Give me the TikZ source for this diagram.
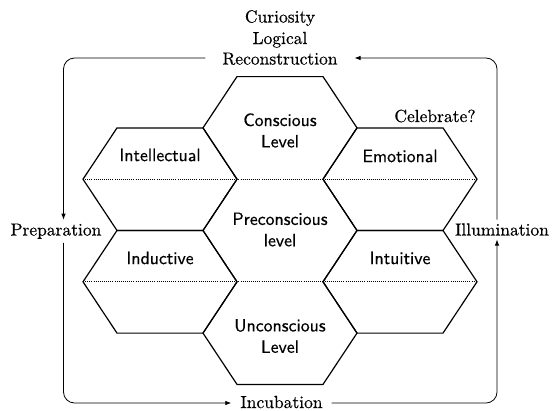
\documentclass[tikz,border=0pt]{standalone}
\usepackage{fontspec}
\setmainfont{lmroman10-regular.otf}[FakeBold=0.5]
\newfontfamily\hexsans{lmsans10-regular.otf}[FakeBold=0.5]
\usetikzlibrary{arrows.meta}
\begin{document}
\begin{tikzpicture}[x=1pt,y=-1pt,
  hexline/.style={line width=1.2pt, line join=miter},
  midline/.style={line width=0.8pt, dash pattern=on 0.8pt off 1.3pt},
  loopline/.style={line width=0.8pt, rounded corners=11pt},
  tip/.style={-{Latex[length=6pt,width=4.5pt]}},
  serif/.style={scale=1.75, inner sep=2pt, anchor=base},
  hexlabel/.style={font=\hexsans, scale=1.78, align=center, inner sep=0pt}]
\useasboundingbox (0,0) rectangle (553,410);
% hexagons (half width 77, half top edge 43, half height 51.3)
% centre column
\draw[hexline,shift={(280,127.9)}] (-43,51.3) -- (-77,0) -- (-43,-51.3) -- (43,-51.3) -- (77,0) -- (43,51.3);
\draw[hexline,shift={(280,230.5)}] (-43,-51.3) -- (-77,0) -- (-43,51.3) (43,-51.3) -- (77,0) -- (43,51.3);
\draw[hexline,shift={(280,333.1)}] (-43,-51.3) -- (-77,0) -- (-43,51.3) -- (43,51.3) -- (77,0) -- (43,-51.3);
% side columns
\foreach \cx/\cy in {160/179.2, 160/281.8, 400/179.2, 400/281.8}
  \draw[hexline,shift={(\cx,\cy)}] (-43,-51.3) -- (-77,0) -- (-43,51.3) -- (43,51.3) -- (77,0) -- (43,-51.3) -- cycle;
% dotted level lines
\draw[midline] (83,179.2) -- (477,179.2);
\draw[midline] (83,281.8) -- (477,281.8);
% hex labels
\node[hexlabel] (conscious) at (280,130.5) {Conscious\\Level};
\node[hexlabel] (intellectual) at (160,155) {Intellectual};
\node[hexlabel] (emotional) at (400,156) {Emotional};
\node[hexlabel] (preconscious) at (280,229.5) {Preconscious\\level};
\node[hexlabel] (inductive) at (160,258) {Inductive};
\node[hexlabel] (intuitive) at (400,258) {Intuitive};
\node[hexlabel] (unconscious) at (280,336) {Unconscious\\Level};
% outer labels
\node[serif] (curi) at (280,22.5) {Curiosity};
\node[serif] (logi) at (280,44) {Logical};
\node[serif,inner xsep=9.5pt] (recon) at (280,64.5) {Reconstruction};
\node[serif,inner ysep=2pt] (prep) at (56,235.5) {Preparation};
\node[serif,inner ysep=2pt] (illu) at (502,235.5) {Illumination};
\node[serif,inner xsep=5pt] (incu) at (281.5,408) {Incubation};
\node[serif] (celeb) at (435,122) {Celebrate?};
% loop corners
\coordinate (tl) at (63.5,58);
\coordinate (tr) at (497,58);
\coordinate (bl) at (63.5,403);
\coordinate (br) at (497,403);
% loop
\draw[loopline,tip] (recon.west |- tl) -- (tl) -- (tl |- prep.north);
\draw[loopline,tip] (tl |- prep.south) -- (bl) -- (bl -| incu.west);
\draw[loopline,tip] (incu.east |- bl) -- (br) -- (br |- illu.south);
\draw[loopline,tip] (br |- illu.north) -- (tr) -- (tr -| recon.east);
\end{tikzpicture}
\end{document}
